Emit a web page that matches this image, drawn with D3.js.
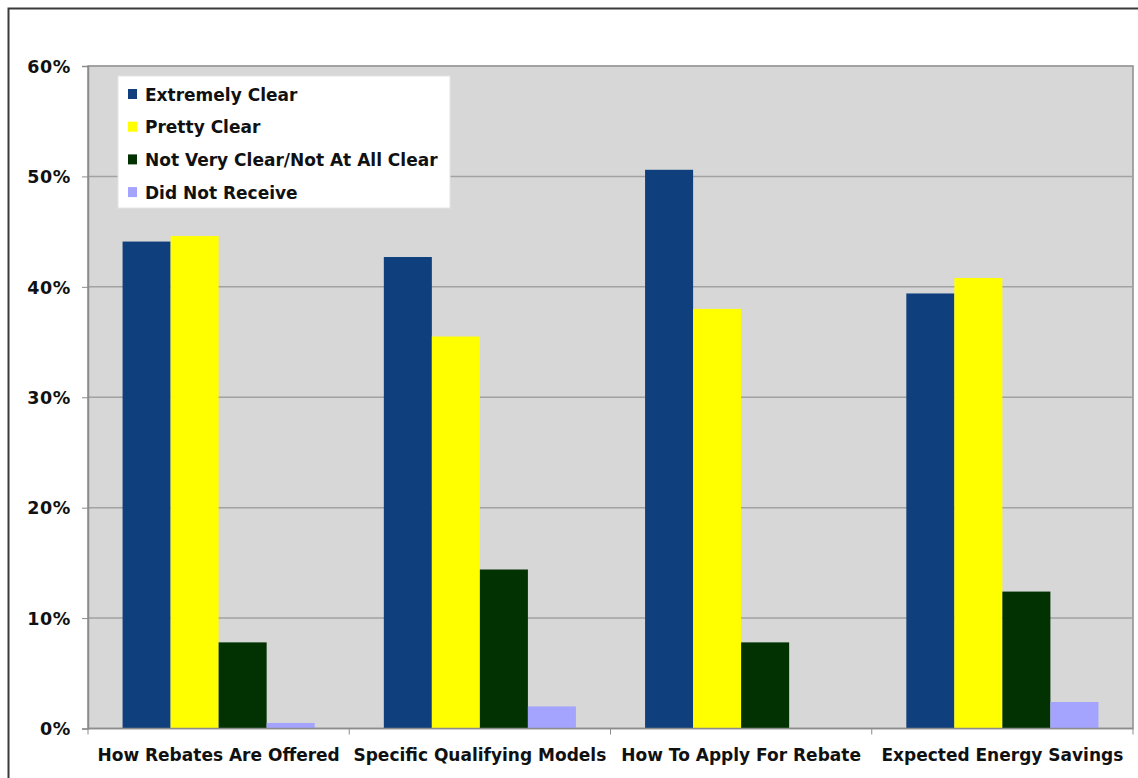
<!DOCTYPE html>
<html>
<head>
<meta charset="utf-8">
<script src="https://cdn.jsdelivr.net/npm/d3@7"></script>
<style>
  html, body { margin: 0; padding: 0; background: #ffffff; }
  svg { display: block; }
  text { font-family: "DejaVu Sans", Verdana, sans-serif; font-weight: bold; fill: #111; }
</style>
</head>
<body>
<svg id="chart" width="1138" height="778"></svg>
<script>
// Survey: how clear was each piece of rebate information
const categories = ["How Rebates Are Offered", "Specific Qualifying Models", "How To Apply For Rebate", "Expected Energy Savings"];
const seriesNames = ["Extremely Clear", "Pretty Clear", "Not Very Clear/Not At All Clear", "Did Not Receive"];
const seriesColors = ["#0f3f7d", "#ffff00", "#023202", "#a4a4ff"];
const extremelyClear = [44.1, 42.7, 50.6, 39.4];
const prettyClear = [44.6, 35.5, 38.0, 40.8];
const notClear = [7.8, 14.4, 7.8, 12.4];
const didNotReceive = [0.5, 2.0, 0.0, 2.4];
const yTicks = [0, 10, 20, 30, 40, 50, 60];

const seriesValues = [extremelyClear, prettyClear, notClear, didNotReceive];

const svg = d3.select("#chart");
const plot = { left: 88, right: 1133, top: 66, bottom: 728.5 };

// outer frame
svg.append("path")
  .attr("d", "M8.5,778 L8.5,8.5 L1138,8.5")
  .attr("fill", "none").attr("stroke", "#3a3a3a").attr("stroke-width", 2);

const x0 = d3.scaleBand().domain(categories).range([plot.left, plot.right]).padding(0);
const x1 = d3.scaleBand().domain(seriesNames).range([0, x0.bandwidth()]).paddingInner(0).paddingOuter(0.72);
const y = d3.scaleLinear().domain([0, 60]).range([plot.bottom, plot.top]);

// plot background
svg.append("rect")
  .attr("x", plot.left).attr("y", plot.top)
  .attr("width", plot.right - plot.left).attr("height", plot.bottom - plot.top)
  .attr("fill", "#d7d7d7").attr("stroke", "#8c8c8c").attr("stroke-width", 1.5);

// gridlines
svg.append("g").selectAll("line").data(yTicks.filter(d => d > 0)).join("line")
  .attr("x1", plot.left).attr("x2", plot.right)
  .attr("y1", d => y(d)).attr("y2", d => y(d))
  .attr("stroke", "#a2a2a2").attr("stroke-width", 1.5);

// bars
const groups = svg.append("g").selectAll("g").data(categories).join("g")
  .attr("transform", d => `translate(${x0(d)},0)`);
groups.selectAll("rect")
  .data((c, ci) => seriesNames.map((s, si) => ({ s, si, v: seriesValues[si][ci] })))
  .join("rect")
  .attr("x", d => x1(d.s))
  .attr("width", x1.bandwidth())
  .attr("y", d => y(d.v))
  .attr("height", d => y(0) - y(d.v))
  .attr("fill", d => seriesColors[d.si]);

// y axis
const yAxis = d3.axisLeft(y).tickValues(yTicks).tickFormat(d => d + "%").tickSize(6).tickPadding(11);
const yg = svg.append("g").attr("transform", `translate(${plot.left},0)`).call(yAxis);
yg.select(".domain").attr("stroke", "#8c8c8c").attr("stroke-width", 1.5);
yg.selectAll(".tick line").attr("stroke", "#8c8c8c");
yg.selectAll(".tick text").style("font-size", "17.5px").style("letter-spacing", "0.6px")
  .attr("fill", "#111").attr("dy", "0.36em");

// x axis: ticks at category boundaries
const xg = svg.append("g").attr("transform", `translate(0,${plot.bottom})`);
xg.append("line").attr("x1", plot.left).attr("x2", plot.right).attr("stroke", "#8c8c8c").attr("stroke-width", 1.5);
const bounds = categories.map(c => x0(c)).concat([plot.right]);
xg.selectAll("line.tick").data(bounds).join("line").attr("class", "tick")
  .attr("x1", d => d).attr("x2", d => d).attr("y1", 0).attr("y2", 6)
  .attr("stroke", "#8c8c8c");
xg.selectAll("text").data(categories).join("text")
  .attr("x", d => x0(d) + x0.bandwidth() / 2)
  .attr("y", 32)
  .attr("text-anchor", "middle")
  .style("font-size", "17px")
  .text(d => d);

// legend
const legend = svg.append("g").attr("transform", "translate(118,76)");
legend.append("rect").attr("width", 332).attr("height", 132).attr("fill", "#ffffff")
  .attr("stroke", "#e4e4e4").attr("stroke-width", 1);
const items = legend.selectAll("g").data(seriesNames).join("g")
  .attr("transform", (d, i) => `translate(0,${18 + i * 32.7})`);
items.append("rect").attr("x", 10).attr("y", -5).attr("width", 9).attr("height", 10)
  .attr("fill", (d, i) => seriesColors[i]);
items.append("text").attr("x", 27).attr("y", 6.5)
  .style("font-size", "17px").text(d => d);
</script>
</body>
</html>
